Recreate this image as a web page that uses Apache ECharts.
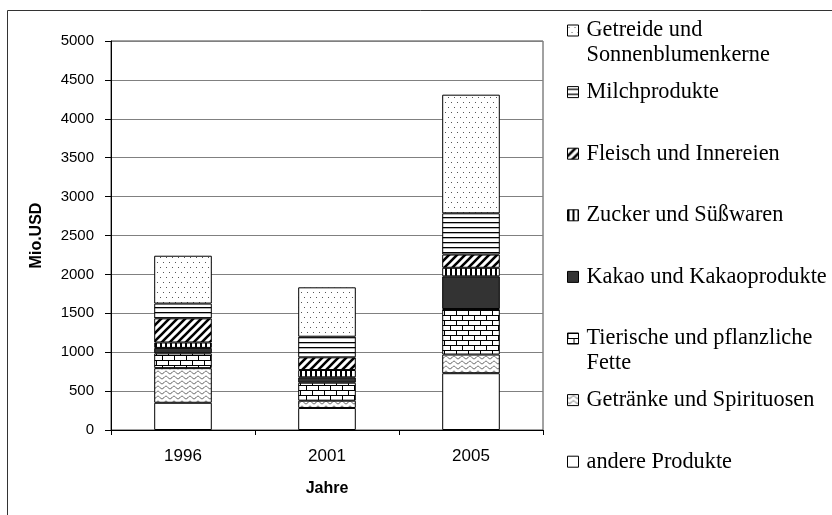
<!DOCTYPE html>
<html>
<head>
<meta charset="utf-8">
<script src="https://cdn.jsdelivr.net/npm/echarts@6/dist/echarts.min.js"></script>
<style>html,body{margin:0;padding:0;background:#fff}#c{width:832px;height:515px}</style>
</head>
<body>
<div id="c"></div>
<script>
// ---- data ----
var years = ['1996', '2001', '2005'];
var yTicks = [0, 500, 1000, 1500, 2000, 2500, 3000, 3500, 4000, 4500, 5000];
var andere    = [350, 283, 730];
var getraenke = [445, 94, 240];
var fette     = [190, 231, 585];
var kakao     = [70, 69, 420];
var zucker    = [70, 94, 110];
var fleisch   = [310, 163, 170];
var milch     = [190, 265, 530];
var getreide  = [615, 635, 1525];
// series names, bottom to top
var seriesNames = ['andere Produkte', 'Getränke und Spirituosen', 'Tierische und pflanzliche Fette',
  'Kakao und Kakaoprodukte', 'Zucker und Süßwaren', 'Fleisch und Innereien', 'Milchprodukte',
  'Getreide und Sonnenblumenkerne'];
var seriesData = [andere, getraenke, fette, kakao, zucker, fleisch, milch, getreide];
// legend labels, top to bottom
var legendOrder = ['Getreide und Sonnenblumenkerne', 'Milchprodukte', 'Fleisch und Innereien',
  'Zucker und Süßwaren', 'Kakao und Kakaoprodukte', 'Tierische und pflanzliche Fette',
  'Getränke und Spirituosen', 'andere Produkte'];
var legendLabels = ['Getreide und\nSonnenblumenkerne', 'Milchprodukte', 'Fleisch und Innereien',
  'Zucker und Süßwaren', 'Kakao und Kakaoprodukte', 'Tierische und pflanzliche\nFette',
  'Getränke und Spirituosen', 'andere Produkte'];

// ---- patterns ----
function tile(w, h, draw) {
  var c = document.createElement('canvas');
  c.width = w; c.height = h;
  var g = c.getContext('2d');
  g.fillStyle = '#fff'; g.fillRect(0, 0, w, h);
  draw(g, w, h);
  return { image: c, repeat: 'repeat' };
}
var patterns = [
  '#ffffff',
  tile(8, 5, function (g) { // waves
    g.strokeStyle = '#555'; g.lineWidth = 1; g.beginPath();
    for (var x = 0; x <= 8; x += 0.5) {
      var y = 2.5 + 1.3 * Math.sin(x / 8 * Math.PI * 2);
      if (x === 0) g.moveTo(x, y); else g.lineTo(x, y);
    }
    g.stroke();
  }),
  tile(12, 10, function (g) { // bricks
    g.fillStyle = '#000';
    g.fillRect(0, 0, 12, 1); g.fillRect(0, 5, 12, 1);
    g.fillRect(0, 0, 1, 5); g.fillRect(6, 5, 1, 5);
  }),
  '#333333',
  tile(5, 1, function (g) { // vertical lines
    g.fillStyle = '#000'; g.fillRect(0, 0, 2, 1);
  }),
  tile(8, 8, function (g) { // diagonal hatch
    g.strokeStyle = '#000'; g.lineWidth = 2.6; g.beginPath();
    g.moveTo(-2, 10); g.lineTo(10, -2);
    g.moveTo(-2, 2); g.lineTo(2, -2);
    g.moveTo(6, 10); g.lineTo(10, 6);
    g.stroke();
  }),
  tile(1, 5, function (g) { // horizontal lines
    g.fillStyle = '#000'; g.fillRect(0, 2, 1, 1.3);
  }),
  tile(6, 10, function (g) { // dots
    g.fillStyle = '#555';
    g.fillRect(1, 2, 1, 1); g.fillRect(4, 7, 1, 1);
  })
];

var series = seriesNames.map(function (n, i) {
  return {
    name: n, type: 'bar', stack: 'total', barWidth: '40%',
    data: seriesData[i],
    itemStyle: { color: patterns[i], borderColor: '#000', borderWidth: 1 },
    emphasis: { disabled: true }
  };
});

var legends = legendOrder.map(function (n, i) {
  var center = 30.5 + i * 61.6;
  var two = legendLabels[i].indexOf('\n') >= 0;
  return {
    show: true, orient: 'vertical', left: 567, top: center - (two ? 37.5 : 12.5),
    padding: 0, itemWidth: 11, itemHeight: 11, itemGap: 0, icon: 'rect',
    data: [n],
    formatter: function () { return two ? ' \n' + legendLabels[i] : legendLabels[i]; },
    itemStyle: { borderColor: '#000', borderWidth: 1 },
    textStyle: { fontFamily: 'Liberation Serif', fontSize: 22.3, color: '#000', lineHeight: 25,
      padding: [0, 0, 0, 3] }
  };
});

var chart = echarts.init(document.getElementById('c'), null, { renderer: 'canvas' });
chart.setOption({
  animation: false,
  backgroundColor: '#fff',
  graphic: [{ type: 'rect', silent: true, z: -10,
    shape: { x: 7.5, y: 10.5, width: 1000, height: 1000 },
    style: { fill: 'none', stroke: '#333', lineWidth: 1 } }],
  grid: { left: 111, top: 41, right: 289, bottom: 85, show: true, borderColor: '#444', borderWidth: 1 },
  legend: legends,
  xAxis: {
    type: 'category', data: years,
    name: 'Jahre', nameLocation: 'middle', nameGap: 50,
    nameTextStyle: { fontFamily: 'Liberation Sans', fontWeight: 'bold', fontSize: 16, color: '#000', lineHeight: 17 },
    axisLine: { lineStyle: { color: '#000', width: 1 } },
    axisTick: { show: true, length: 5, lineStyle: { color: '#000' } },
    axisLabel: { fontFamily: 'Liberation Sans', fontSize: 17, color: '#000', margin: 18, lineHeight: 17 }
  },
  yAxis: {
    type: 'value', min: yTicks[0], max: yTicks[yTicks.length - 1], interval: yTicks[1] - yTicks[0],
    name: 'Mio.USD', nameLocation: 'middle', nameGap: 66,
    nameTextStyle: { fontFamily: 'Liberation Sans', fontWeight: 'bold', fontSize: 16, color: '#000', lineHeight: 17 },
    axisLine: { show: true, lineStyle: { color: '#000', width: 1 } },
    axisTick: { show: true, length: 6, lineStyle: { color: '#000' } },
    axisLabel: { fontFamily: 'Liberation Sans', fontSize: 15, color: '#000', margin: 17,
      formatter: function (v) { return String(v); } },
    splitLine: { show: true, lineStyle: { color: '#808080', width: 1 } }
  },
  series: series
});
</script>
</body>
</html>
